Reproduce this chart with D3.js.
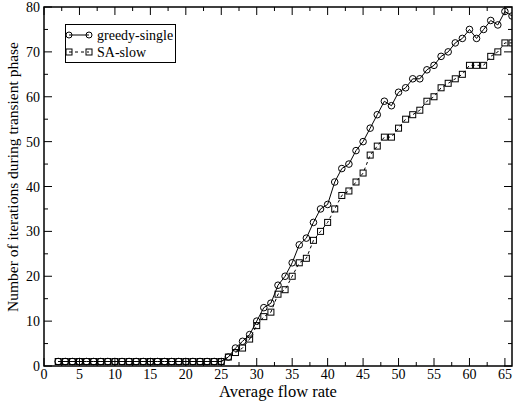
<!DOCTYPE html>
<html><head><meta charset="utf-8">
<script src="https://cdn.jsdelivr.net/npm/d3@7"></script>
<style>body{margin:0;background:#fff}svg{display:block}</style>
</head><body><svg id="c" width="514" height="402" font-family="'Liberation Serif', 'Times New Roman', Times, 'DejaVu Serif', serif"></svg>
<script>
const flowRates = d3.range(2, 67);
const greedySingle = [1,1,1,1,1,1,1,1,1,1,1,1,1,1,1,1,1,1,1,1,1,1,1,1,
  2,4,5.5,7,10,13,14,18,20,23,27,28.5,32,35,36,41,44,45,48,50,53,56,59,58,61,62,64,64,66,67,69,70,72,73,75,73,75,77,76,79,78];
const saSlow = [1,1,1,1,1,1,1,1,1,1,1,1,1,1,1,1,1,1,1,1,1,1,1,1,
  2,3,4,6,9,11,12,16,17,20,23,24,28,30,32,35,38,39,41,43,47,49,51,51,53,55,56,57,59,60,62,63,64,65,67,67,67,69,70,72,72];
const xTicks = d3.range(0, 66, 5);
const yTicks = d3.range(0, 81, 10);
const seriesNames = ["greedy-single", "SA-slow"];

const FONT = "'Liberation Serif', 'Times New Roman', Times, 'DejaVu Serif', serif";
const svg = d3.select("#c");
const x = d3.scaleLinear().domain([0, 66]).range([44, 512]);
const y = d3.scaleLinear().domain([0, 80]).range([366, 7]);

const g = svg.append("g");
const xMinor = d3.range(0, 66, 2.5).filter(v => v % 5 !== 0);
const yMinor = d3.range(5, 80, 10);
function tickLines(vals, len, horizontal) {
  vals.forEach(v => {
    if (horizontal) {
      g.append("line").attr("x1", x(v)).attr("x2", x(v)).attr("y1", y(0)).attr("y2", y(0) - len).attr("stroke", "#000");
      g.append("line").attr("x1", x(v)).attr("x2", x(v)).attr("y1", y(80)).attr("y2", y(80) + len).attr("stroke", "#000");
    } else {
      g.append("line").attr("y1", y(v)).attr("y2", y(v)).attr("x1", x(0)).attr("x2", x(0) + len).attr("stroke", "#000");
      g.append("line").attr("y1", y(v)).attr("y2", y(v)).attr("x1", x(66)).attr("x2", x(66) - len).attr("stroke", "#000");
    }
  });
}
tickLines(xTicks, 8, true);
tickLines(xMinor, 4, true);
tickLines(yTicks, 8, false);
tickLines(yMinor, 4, false);

g.selectAll(".xl").data(xTicks).enter().append("text").attr("font-family", FONT)
  .attr("x", d => x(d)).attr("y", 378.5).attr("text-anchor", "middle").attr("font-size", 14).text(d => d);
g.selectAll(".yl").data(yTicks).enter().append("text").attr("font-family", FONT)
  .attr("x", 40).attr("y", d => y(d) + 5).attr("text-anchor", "end").attr("font-size", 14).text(d => d);

svg.append("text").attr("font-family", FONT).attr("x", 278).attr("y", 396.5).attr("text-anchor", "middle").attr("font-size", 16.5).text("Average flow rate");
svg.append("text").attr("font-family", FONT).attr("transform", "translate(18,177) rotate(-90)").attr("text-anchor", "middle").attr("font-size", 15.5).text("Number of iterations during transient phase");

const d1 = flowRates.map((f, i) => [f, greedySingle[i]]);
const d2 = flowRates.map((f, i) => [f, saSlow[i]]);
const line = d3.line().x(d => x(d[0])).y(d => y(d[1]));
svg.append("clipPath").attr("id", "cp").append("rect").attr("x", x(0)).attr("y", y(80)).attr("width", x(66) - x(0)).attr("height", y(0) - y(80));
const plot = svg.append("g").attr("clip-path", "url(#cp)");
plot.append("path").attr("d", line(d1)).attr("fill", "none").attr("stroke", "#000").attr("stroke-width", 1);
plot.append("path").attr("d", line(d2)).attr("fill", "none").attr("stroke", "#000").attr("stroke-width", 1).attr("stroke-dasharray", "3,3");
plot.selectAll(".c").data(d1).enter().append("circle").attr("cx", d => x(d[0])).attr("cy", d => y(d[1])).attr("r", 3.3).attr("fill", "none").attr("stroke", "#000").attr("stroke-width", 1);
plot.selectAll(".s").data(d2).enter().append("rect").attr("x", d => x(d[0]) - 3).attr("y", d => y(d[1]) - 3).attr("width", 6).attr("height", 6).attr("fill", "none").attr("stroke", "#000").attr("stroke-width", 1);

svg.append("rect").attr("x", x(0)).attr("y", y(80)).attr("width", x(66) - x(0)).attr("height", y(0) - y(80)).attr("fill", "none").attr("stroke", "#000").attr("stroke-width", 1.5);

const lg = svg.append("g");
lg.append("rect").attr("x", 65.5).attr("y", 24.5).attr("width", 110).attr("height", 38).attr("fill", "#fff").attr("stroke", "#000").attr("stroke-width", 1);
seriesNames.forEach((name, i) => {
  const yy = 35 + i * 17;
  lg.append("line").attr("x1", 69).attr("x2", 89).attr("y1", yy).attr("y2", yy).attr("stroke", "#000").attr("stroke-dasharray", i ? "3,3" : null);
  [69, 89].forEach(px => {
    if (i === 0) lg.append("circle").attr("cx", px).attr("cy", yy).attr("r", 3).attr("fill", "none").attr("stroke", "#000");
    else lg.append("rect").attr("x", px - 3).attr("y", yy - 3).attr("width", 6).attr("height", 6).attr("fill", "none").attr("stroke", "#000");
  });
  lg.append("text").attr("font-family", FONT).attr("x", 97).attr("y", yy + 5).attr("font-size", 14).text(name);
});
</script></body></html>
